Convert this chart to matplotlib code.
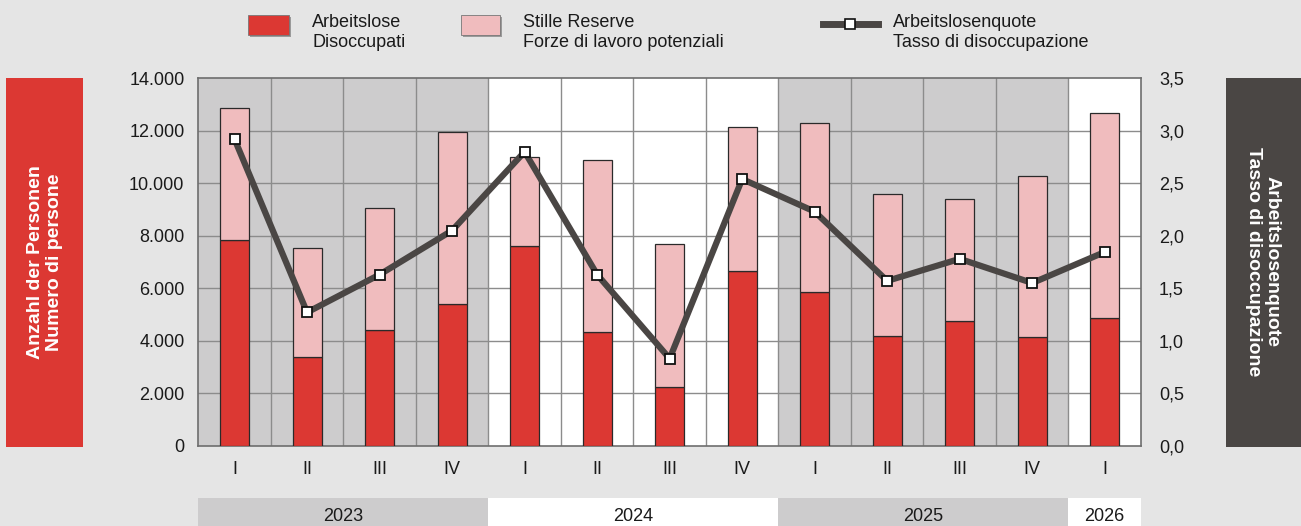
import matplotlib
matplotlib.use("Agg")
import matplotlib.pyplot as plt
from matplotlib.patches import Rectangle
from matplotlib.lines import Line2D
from matplotlib.ticker import FuncFormatter, MultipleLocator

# ---- data ----
quarters = ["I", "II", "III", "IV", "I", "II", "III", "IV", "I", "II", "III", "IV", "I"]
years = [2023, 2023, 2023, 2023, 2024, 2024, 2024, 2024, 2025, 2025, 2025, 2025, 2026]
arbeitslose = [7840, 3370, 4400, 5400, 7610, 4320, 2225, 6650, 5870, 4180, 4760, 4130, 4880]
totale = [12850, 7520, 9060, 11950, 11010, 10900, 7680, 12160, 12310, 9590, 9390, 10290, 12690]
stille_reserve = [t - a for t, a in zip(totale, arbeitslose)]
quote = [2.92, 1.27, 1.63, 2.05, 2.80, 1.63, 0.83, 2.54, 2.23, 1.57, 1.78, 1.55, 1.845]

year_labels = ["2023", "2024", "2025", "2026"]
shaded_years = [2023, 2025]

# ---- style ----
RED = "#dc3833"
PINK = "#f0bcbe"
LINE = "#4a4644"
GREY_BG = "#cdcccd"
FIG_BG = "#e5e5e5"
GRID = "#8c8c8c"
TXT = "#1a1a1a"
FONT = ["Liberation Sans", "DejaVu Sans"]
plt.rcParams["font.family"] = FONT

W, H = 1301, 526
fig = plt.figure(figsize=(W / 100, H / 100), dpi=100, facecolor=FIG_BG)

L, R, T, B = 198.3, 1141.0, 78.3, 445.7
ax = fig.add_axes([L / W, 1 - B / H, (R - L) / W, (B - T) / H])
x = list(range(len(quarters)))
ax.set_xlim(-0.5, len(quarters) - 0.5)
ax.set_ylim(0, 14000)
ax.set_facecolor("white")

for i, y in enumerate(years):
    if y in shaded_years:
        ax.axvspan(i - 0.5, i + 0.5, color=GREY_BG, lw=0, zorder=0)
for i in range(1, len(quarters)):
    ax.axvline(i - 0.5, color=GRID, lw=1, zorder=1)
for v in range(2000, 14000, 2000):
    ax.axhline(v, color=GRID, lw=1, zorder=1)

ax.bar(x, arbeitslose, width=0.4, color=RED, edgecolor="#2a2a2a", lw=0.9, zorder=3)
ax.bar(x, stille_reserve, width=0.4, bottom=arbeitslose, color=PINK,
       edgecolor="#2a2a2a", lw=0.9, zorder=3)

ax.yaxis.set_major_locator(MultipleLocator(2000))
ax.yaxis.set_major_formatter(FuncFormatter(lambda v, p: f"{int(v):,}".replace(",", ".")))
ax.set_xticks(x)
ax.set_xticklabels(quarters)
ax.tick_params(axis="x", length=0, pad=11, labelsize=13, colors=TXT)
ax.tick_params(axis="y", length=0, pad=10, labelsize=13, colors=TXT)
for s in ax.spines.values():
    s.set_color("#6e6e6e")
    s.set_linewidth(1.2)

ax2 = ax.twinx()
ax2.set_ylim(0, 3.5)
ax2.yaxis.set_major_locator(MultipleLocator(0.5))
ax2.yaxis.set_major_formatter(FuncFormatter(lambda v, p: f"{v:.1f}".replace(".", ",")))
ax2.tick_params(axis="y", length=0, pad=13, labelsize=13, colors=TXT)
for s in ax2.spines.values():
    s.set_visible(False)
ax2.plot(x, quote, color=LINE, lw=4.5, marker="s", ms=7, mfc="white",
         mec="#111111", mew=1.3, zorder=5)

# ---- year band ----
bax = fig.add_axes([L / W, 0, (R - L) / W, 28 / H])
bax.set_xlim(-0.5, len(quarters) - 0.5)
bax.set_ylim(0, 1)
bax.axis("off")
for yl in year_labels:
    idx = [i for i, y in enumerate(years) if str(y) == yl]
    lo, hi = idx[0] - 0.5, idx[-1] + 0.5
    col = GREY_BG if int(yl) in shaded_years else "white"
    bax.add_patch(Rectangle((lo, 0), hi - lo, 1, color=col, lw=0))
    bax.text((lo + hi) / 2, 0.33, yl, ha="center", va="center", fontsize=13, color=TXT)

# ---- side boxes ----
fig.patches.append(Rectangle((6 / W, 1 - 447 / H), 77 / W, 369 / H,
                             transform=fig.transFigure, color=RED, lw=0))
fig.text(45 / W, 1 - 262 / H, "Anzahl der Personen\nNumero di persone", rotation=90,
         ha="center", va="center", color="white", fontsize=14, fontweight="bold",
         linespacing=1.1, multialignment="center")
fig.patches.append(Rectangle((1226 / W, 1 - 447 / H), 80 / W, 369 / H,
                             transform=fig.transFigure, color=LINE, lw=0))
fig.text(1263 / W, 1 - 262 / H, "Arbeitslosenquote\nTasso di disoccupazione", rotation=270,
         ha="center", va="center", color="white", fontsize=14, fontweight="bold",
         linespacing=1.1, multialignment="center")

# ---- legend ----
def swatch(x0, x1, color):
    fig.patches.append(Rectangle(((x0 + 2) / W, 1 - 37 / H), (x1 - x0) / W, 20 / H,
                                 transform=fig.transFigure, color="#9a9a9a", lw=0))
    fig.patches.append(Rectangle((x0 / W, 1 - 35 / H), (x1 - x0) / W, 20 / H,
                                 transform=fig.transFigure, facecolor=color,
                                 edgecolor="#777777", lw=0.6))

swatch(248, 289, RED)
swatch(461, 500, PINK)
fig.lines.append(Line2D([823 / W, 878 / W], [1 - 24 / H, 1 - 24 / H], transform=fig.transFigure,
                        color=LINE, lw=5))
fig.lines.append(Line2D([850 / W], [1 - 24 / H], transform=fig.transFigure, color=LINE,
                        marker="s", ms=7, mfc="white", mec="#111111", mew=1.2, lw=0))
for xt, txt in [(312, "Arbeitslose\nDisoccupati"),
                (523, "Stille Reserve\nForze di lavoro potenziali"),
                (893, "Arbeitslosenquote\nTasso di disoccupazione")]:
    fig.text(xt / W, 1 - 32.5 / H, txt, ha="left", va="center", fontsize=13,
             color=TXT, linespacing=1.3, multialignment="left")

fig.savefig("out.png", dpi=100, facecolor=FIG_BG)
